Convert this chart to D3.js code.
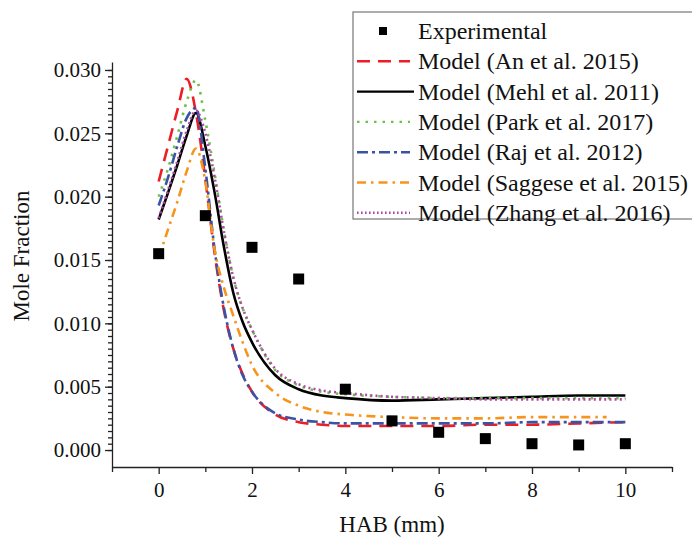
<!DOCTYPE html>
<html>
<head>
<meta charset="utf-8">
<script src="https://cdn.jsdelivr.net/npm/d3@7"></script>
<style>
  body { margin: 0; background: #fff; }
  svg text { font-family: "Liberation Serif", "Times New Roman", "DejaVu Serif", serif; fill: #111; }
</style>
</head>
<body>
<div id="chart"></div>
<script>
// chart values
var expX = [0, 1, 2, 3, 4, 5, 6, 7, 8, 9, 10];
var expY = [0.0155, 0.0185, 0.0160, 0.0135, 0.0048, 0.0023, 0.0014, 0.0009, 0.0005, 0.0004, 0.0005];

var modelX = [0, 0.2, 0.4, 0.6, 0.8, 1.0, 1.2, 1.4, 1.6, 1.8, 2.0, 2.5, 3, 3.5, 4, 5, 6, 7, 8, 9, 10];
var anY      = [0.0212, 0.0240, 0.0268, 0.0293, 0.0266, 0.0214, 0.0155, 0.0110, 0.0080, 0.0060, 0.0046, 0.0028, 0.0022, 0.0020, 0.0019, 0.0019, 0.0019, 0.0020, 0.0020, 0.0021, 0.0022];
var mehlY    = [0.0182, 0.0203, 0.0225, 0.0248, 0.0266, 0.0240, 0.0203, 0.0160, 0.0124, 0.0101, 0.0085, 0.0059, 0.0048, 0.0043, 0.0041, 0.0039, 0.0040, 0.0041, 0.0042, 0.0043, 0.0043];
var parkY    = [0.0200, 0.0222, 0.0248, 0.0275, 0.0292, 0.0260, 0.0218, 0.0173, 0.0136, 0.0112, 0.0095, 0.0063, 0.0051, 0.0046, 0.0044, 0.0042, 0.0041, 0.0041, 0.0041, 0.0041, 0.0041];
var rajY     = [0.0193, 0.0215, 0.0240, 0.0262, 0.0270, 0.0222, 0.0158, 0.0112, 0.0080, 0.0059, 0.0046, 0.0029, 0.0024, 0.0022, 0.0021, 0.0021, 0.0021, 0.0021, 0.0022, 0.0022, 0.0022];
var saggeseY = [0.0152, 0.0174, 0.0196, 0.0220, 0.0238, 0.0212, 0.0158, 0.0128, 0.0106, 0.0085, 0.0067, 0.0045, 0.0035, 0.0030, 0.0028, 0.0026, 0.0025, 0.0025, 0.0026, 0.0026, 0.0026];
var zhangY   = [0.0183, 0.0205, 0.0228, 0.0252, 0.0268, 0.0250, 0.0215, 0.0172, 0.0136, 0.0112, 0.0095, 0.0064, 0.0052, 0.0047, 0.0045, 0.0042, 0.0041, 0.0040, 0.0040, 0.0040, 0.0040];

var xTicks = [0, 2, 4, 6, 8, 10];
var yTicks = [0, 0.005, 0.010, 0.015, 0.020, 0.025, 0.030];

var series = [
  { name: "Model (An et al. 2015)",       y: anY,      color: "#ee1c25", dash: "13,8" },
  { name: "Model (Mehl et al. 2011)",     y: mehlY,    color: "#000000", dash: null },
  { name: "Model (Park et al. 2017)",     y: parkY,    color: "#6cc04a", dash: "2.5,6" },
  { name: "Model (Raj et al. 2012)",      y: rajY,     color: "#3a53a4", dash: "11,4,3,4" },
  { name: "Model (Saggese et al. 2015)",  y: saggeseY, color: "#f7941d", dash: "9,5,2.5,5" },
  { name: "Model (Zhang et al. 2016)",    y: zhangY,   color: "#b04aa8", dash: "2,3.2" }
];

var svgWidth = 692;
var svgHeight = 538;

var svg = d3.select("#chart")
  .append("svg")
  .attr("width", svgWidth)
  .attr("height", svgHeight);

var xScale = d3.scaleLinear().domain([-1, 11]).range([112, 672]);
var yScale = d3.scaleLinear().domain([-0.00134, 0.03063]).range([467, 62]);

// minor ticks first
svg.append("g")
  .attr("transform", "translate(0,467)")
  .call(d3.axisBottom(xScale).tickValues(d3.range(-1, 12, 1).filter(d => d % 2 !== 0)).tickSize(5).tickSizeOuter(0).tickFormat(""))
  .call(g => g.select(".domain").remove());

svg.append("g")
  .attr("transform", "translate(112,0)")
  .call(d3.axisLeft(yScale).tickValues(d3.range(0, 61).map(i => i * 0.0005)).tickSize(4).tickSizeOuter(0).tickFormat(""))
  .call(g => g.select(".domain").remove());

// major axes
var xAxis = svg.append("g")
  .attr("transform", "translate(0,467)")
  .call(d3.axisBottom(xScale).tickValues(xTicks).tickSize(7).tickSizeOuter(0).tickPadding(8).tickFormat(d3.format("d")));

var yAxis = svg.append("g")
  .attr("transform", "translate(112,0)")
  .call(d3.axisLeft(yScale).tickValues(yTicks).tickSize(7).tickSizeOuter(0).tickPadding(4).tickFormat(d3.format(".3f")));

svg.selectAll("g").attr("font-family", null);
svg.selectAll(".domain, .tick line").attr("stroke", "#222").attr("stroke-width", 1.3);
xAxis.selectAll("text").style("font-size", "21px").attr("fill", "#111");
yAxis.selectAll("text").style("font-size", "21px").attr("fill", "#111");

// axis titles
svg.append("text")
  .attr("x", 392)
  .attr("y", 532)
  .attr("text-anchor", "middle")
  .style("font-size", "23px")
  .text("HAB (mm)");

svg.append("text")
  .attr("transform", "translate(29,256) rotate(-90)")
  .attr("text-anchor", "middle")
  .style("font-size", "23px")
  .text("Mole Fraction");

// model lines
var line = d3.line()
  .x(d => xScale(d[0]))
  .y(d => yScale(d[1]))
  .curve(d3.curveMonotoneX);

series.forEach(function(s) {
  var pts = modelX.map((x, i) => [x, s.y[i]]);
  if (s.name.indexOf("Saggese") >= 0) pts[pts.length - 1][0] = 9.6;
  svg.append("path")
    .datum(pts)
    .attr("d", line)
    .attr("fill", "none")
    .attr("stroke", s.color)
    .attr("stroke-width", 2.6)
    .attr("stroke-dasharray", s.dash);
});

// experimental squares
svg.selectAll("rect.exp")
  .data(expX)
  .enter()
  .append("rect")
  .attr("class", "exp")
  .attr("x", d => xScale(d) - 5.5)
  .attr("y", (d, i) => yScale(expY[i]) - 5.5)
  .attr("width", 11)
  .attr("height", 11)
  .attr("fill", "#000");

// legend
var legend = svg.append("g");
legend.append("rect")
  .attr("x", 353)
  .attr("y", 12)
  .attr("width", 360)
  .attr("height", 207)
  .attr("fill", "#fff")
  .attr("stroke", "#777")
  .attr("stroke-width", 1.2);

var rowY = d3.range(7).map(i => 31 + i * 30.3);

legend.append("rect")
  .attr("x", 379)
  .attr("y", rowY[0] - 4)
  .attr("width", 8)
  .attr("height", 8)
  .attr("fill", "#000");
legend.append("text")
  .attr("x", 418)
  .attr("y", rowY[0] + 8)
  .style("font-size", "24px")
  .text("Experimental");

series.forEach(function(s, i) {
  var yy = rowY[i + 1];
  legend.append("line")
    .attr("x1", 357)
    .attr("x2", s.dash === null ? 414 : 410)
    .attr("y1", yy)
    .attr("y2", yy)
    .attr("stroke", s.color)
    .attr("stroke-width", 2.4)
    .attr("stroke-dasharray", s.dash === null ? null : (s.name.indexOf("Zhang") >= 0 ? "1.6,2.4" : s.dash));
  legend.append("text")
    .attr("x", 418)
    .attr("y", yy + 8)
    .style("font-size", "24px")
    .text(s.name);
});
</script>
</body>
</html>
